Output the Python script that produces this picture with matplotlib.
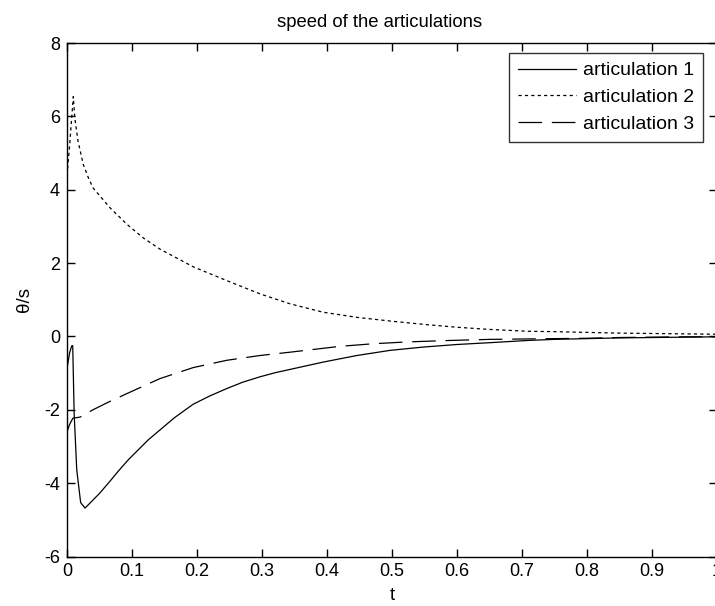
import matplotlib
matplotlib.use("Agg")
import matplotlib.pyplot as plt

plt.rcParams['font.family'] = ['Liberation Sans', 'DejaVu Sans']
plt.rcParams['lines.scale_dashes'] = False
plt.rcParams['axes.unicode_minus'] = False

# articulation 1 (solid)
t1 = [0.0, 0.004, 0.0072, 0.0088, 0.011, 0.015, 0.021, 0.0277, 0.035, 0.05, 0.066, 0.08, 0.095,
      0.112, 0.125, 0.143, 0.165, 0.194, 0.22, 0.246, 0.27, 0.297, 0.32, 0.343, 0.394, 0.446,
      0.497, 0.548, 0.60, 0.651, 0.709, 0.75, 0.80, 0.85, 0.90, 0.95, 1.0]
v1 = [-0.88, -0.45, -0.26, -0.25, -2.1, -3.64, -4.53, -4.68, -4.55, -4.28, -3.95, -3.65, -3.35,
      -3.05, -2.82, -2.55, -2.22, -1.85, -1.62, -1.42, -1.25, -1.10, -0.99, -0.90, -0.70, -0.52,
      -0.38, -0.29, -0.22, -0.17, -0.11, -0.08, -0.06, -0.04, -0.03, -0.02, -0.01]

# articulation 2 (dotted)
t2 = [0.0, 0.004, 0.0097, 0.012, 0.017, 0.025, 0.033, 0.04, 0.066, 0.092, 0.117, 0.143, 0.194,
      0.246, 0.297, 0.343, 0.394, 0.446, 0.497, 0.548, 0.60, 0.651, 0.71, 0.75, 0.80, 0.85, 0.90,
      0.95, 1.0]
v2 = [4.4, 5.2, 6.54, 5.95, 5.32, 4.69, 4.32, 4.05, 3.51, 3.06, 2.69, 2.38, 1.90, 1.52, 1.16,
      0.89, 0.66, 0.52, 0.42, 0.33, 0.25, 0.19, 0.14, 0.13, 0.11, 0.09, 0.08, 0.07, 0.06]

# articulation 3 (dashed)
t3 = [0.0, 0.004, 0.009, 0.02, 0.04, 0.065, 0.092, 0.143, 0.194, 0.246, 0.297, 0.343, 0.42,
      0.471, 0.523, 0.589, 0.651, 0.70, 0.75, 0.80, 0.85, 0.90, 0.95, 1.0]
v3 = [-2.6, -2.4, -2.23, -2.2, -2.0, -1.78, -1.56, -1.15, -0.85, -0.65, -0.52, -0.43, -0.27,
      -0.20, -0.15, -0.11, -0.08, -0.07, -0.06, -0.05, -0.03, -0.02, -0.01, -0.01]

labels = ['articulation 1', 'articulation 2', 'articulation 3']
xticks = [0, 0.1, 0.2, 0.3, 0.4, 0.5, 0.6, 0.7, 0.8, 0.9, 1.0]
xticklabels = ['0', '0.1', '0.2', '0.3', '0.4', '0.5', '0.6', '0.7', '0.8', '0.9', '1']
yticks = [-6, -4, -2, 0, 2, 4, 6, 8]

fig = plt.figure(figsize=(7.15, 6.06), dpi=100)
W, H = 715, 606
left, right, top, bottom = 67, 717, 43, 556.5
ax = fig.add_axes([left / W, (H - bottom) / H, (right - left) / W, (bottom - top) / H])

lw = 0.9
ax.plot(t1, v1, color='black', lw=lw, linestyle='-', label=labels[0])
ax.plot(t2, v2, color='black', lw=lw, linestyle=(0, (2.3, 2.3)), label=labels[1])
ax.plot(t3, v3, color='black', lw=lw, linestyle=(0, (17, 7)), label=labels[2])

ax.set_xlim(0, 1)
ax.set_ylim(-6, 8)
ax.set_xticks(xticks)
ax.set_xticklabels(xticklabels)
ax.set_yticks(yticks)
ax.tick_params(direction='in', top=True, right=True, length=6, width=1, labelsize=13, pad=5)
for s in ax.spines.values():
    s.set_linewidth(1)

ax.set_title('speed of the articulations', fontsize=13.3, pad=11.5, x=(380 - left) / (right - left))
ax.set_xlabel('t', fontsize=13.5, labelpad=5)
ax.set_ylabel('θ/s', fontsize=13.5, labelpad=8)

leg = ax.legend(loc='upper right', bbox_to_anchor=((703 - left) / (right - left), (bottom - 53) / (bottom - top)),
                fontsize=14, frameon=True, fancybox=False, edgecolor='black',
                handlelength=3.0, borderpad=0.45, labelspacing=0.48, handletextpad=0.36, borderaxespad=0)
leg.get_frame().set_linewidth(1)

fig.savefig('out.png', dpi=100)
